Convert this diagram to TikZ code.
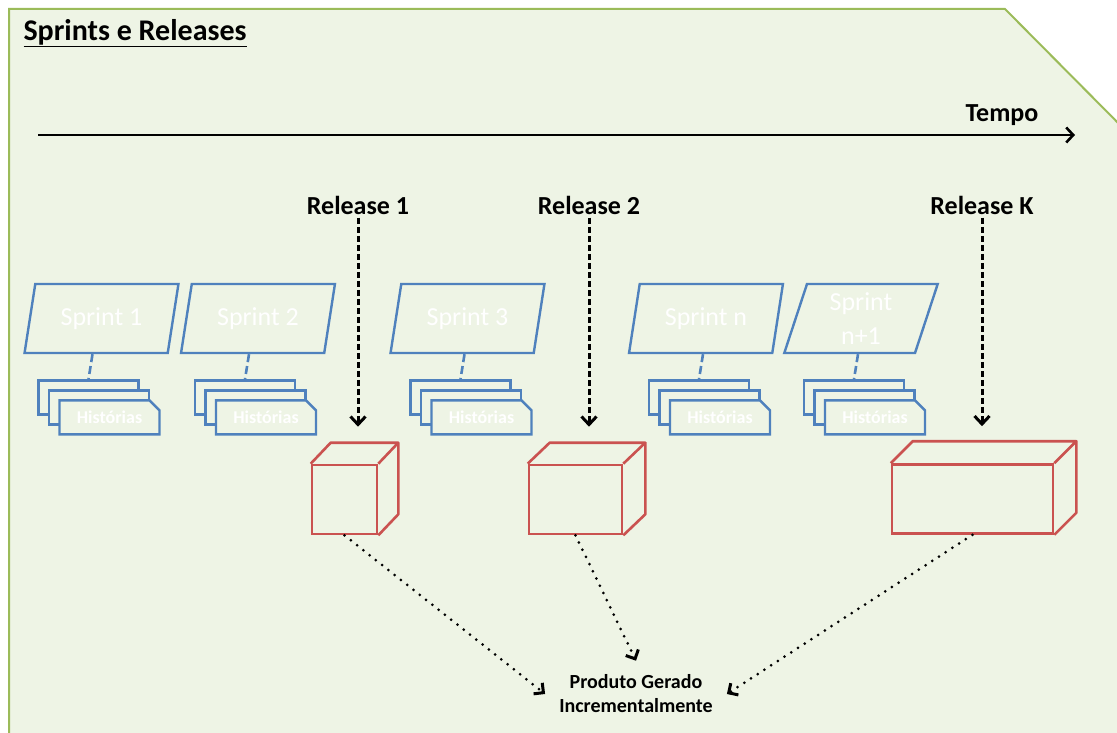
\documentclass[tikz,border=0pt]{standalone}
\usepackage{fontspec}
\setmainfont{Carlito}
\usetikzlibrary{positioning, arrows.meta, shapes.geometric, shapes.misc}

\definecolor{framegreen}{RGB}{155,187,89}
\definecolor{panelbg}{RGB}{238,244,229}
\definecolor{sprintblue}{RGB}{79,129,189}
\definecolor{boxred}{RGB}{202,82,80}

\tikzset{
  sprint/.style={trapezium, trapezium left angle=76, trapezium right angle=104,
    trapezium stretches=true, minimum width=154pt, minimum height=69pt,
    draw=sprintblue, line width=2.4pt, text=white, align=center,
    font=\fontsize{26}{34}\selectfont},
  hist/.style={chamfered rectangle, chamfered rectangle corners=north east,
    chamfered rectangle xsep=5pt, chamfered rectangle ysep=5pt,
    minimum width=100pt, minimum height=34pt, inner sep=0pt,
    draw=sprintblue, line width=2.4pt, fill=panelbg,
    text=white, font=\bfseries\fontsize{18}{20}\selectfont},
  link/.style={draw=sprintblue, line width=2.6pt, dash pattern=on 8pt off 4pt},
  release/.style={font=\bfseries\fontsize{26}{30}\selectfont},
  relarrow/.style={line width=3pt, dash pattern=on 6pt off 3pt, shorten >=37pt,
    -{Straight Barb[length=8pt,width=15pt]}},
  timearrow/.style={line width=2.6pt, -{Straight Barb[length=7pt,width=15pt]}},
  cube/.style={draw=boxred, line width=2.6pt, minimum height=69pt, inner sep=0pt},
  cubeedge/.style={draw=boxred, line width=2.6pt, line join=round},
  dotarrow/.style={line width=3pt, dash pattern=on 0pt off 8pt, line cap=round,
    -{Straight Barb[length=7pt,width=14pt,line width=3pt]}}
}

\begin{document}
\begin{tikzpicture}[x=1pt, y=-1pt]
  \useasboundingbox (0,0) rectangle (1117,733);
  \begin{scope}
    \clip (0,0) rectangle (1117,733);
    \draw[framegreen, line width=2pt, fill=panelbg] (9,9) -- (1005,9) -- (1135,140) -- (1135,760) -- (9,760) -- cycle;
  \end{scope}

  \node[anchor=west, font=\bfseries\fontsize{30}{32}\selectfont] (title) at (20,33) {\underline{Sprints e Releases}};

  % tempo
  \coordinate (t0) at (38,135);
  \coordinate (t1) at (1075,135);
  \draw[timearrow] (t0) -- (t1);
  \node[release] (tempo) at (1002,115) {Tempo};

  % sprints
  \node[sprint] (s1) at (101.5,318.5) {Sprint 1};
  \node[sprint] (s2) at (258,318.5) {Sprint 2};
  \node[sprint] (s3) at (467.5,318.5) {Sprint 3};
  \node[sprint] (sn) at (706,318.5) {Sprint n};
  \node[sprint] (sn1) at (861,318.5) {Sprint\\n+1};

  % historias
  \node[hist] (h1a) [below=25pt of s1, xshift=-13pt] {};
  \node[hist] (h1b) at ([shift={(10.5,10)}]h1a) {};
  \node[hist] (h1c) at ([shift={(21,20)}]h1a) {Histórias};
  \node[hist] (h2a) [below=25pt of s2, xshift=-13pt] {};
  \node[hist] (h2b) at ([shift={(10.5,10)}]h2a) {};
  \node[hist] (h2c) at ([shift={(21,20)}]h2a) {Histórias};
  \node[hist] (h3a) [below=25pt of s3, xshift=-7pt] {};
  \node[hist] (h3b) at ([shift={(10.5,10)}]h3a) {};
  \node[hist] (h3c) at ([shift={(21,20)}]h3a) {Histórias};
  \node[hist] (hna) [below=25pt of sn, xshift=-7pt] {};
  \node[hist] (hnb) at ([shift={(10.5,10)}]hna) {};
  \node[hist] (hnc) at ([shift={(21,20)}]hna) {Histórias};
  \node[hist] (hn1a) [below=25pt of sn1, xshift=-7pt] {};
  \node[hist] (hn1b) at ([shift={(10.5,10)}]hn1a) {};
  \node[hist] (hn1c) at ([shift={(21,20)}]hn1a) {Histórias};

  \draw[link] ([xshift=4pt]h1a.north |- s1.south) -- (h1a.north);
  \draw[link] ([xshift=4pt]h2a.north |- s2.south) -- (h2a.north);
  \draw[link] ([xshift=4pt]h3a.north |- s3.south) -- (h3a.north);
  \draw[link] ([xshift=4pt]hna.north |- sn.south) -- (hna.north);
  \draw[link] ([xshift=4pt]hn1a.north |- sn1.south) -- (hn1a.north);

  % releases
  \node[cube, minimum width=65pt] (b1) at (344.5,499.5) {};
  \node[cube, minimum width=93pt] (b2) at (575.5,499.5) {};
  \node[cube, minimum width=161pt] (bk) at (972.5,499) {};
  \draw[cubeedge] (b1.north west) -- ++(20,-21) -- ([shift={(20,-21)}]b1.north east) -- (b1.north east)
    ([shift={(20,-21)}]b1.north east) -- ([shift={(20,-21)}]b1.south east) -- (b1.south east);
  \draw[cubeedge] (b2.north west) -- ++(22,-21) -- ([shift={(22,-21)}]b2.north east) -- (b2.north east)
    ([shift={(22,-21)}]b2.north east) -- ([shift={(22,-21)}]b2.south east) -- (b2.south east);
  \draw[cubeedge] (bk.north west) -- ++(22,-22) -- ([shift={(22,-22)}]bk.north east) -- (bk.north east)
    ([shift={(22,-22)}]bk.north east) -- ([shift={(22,-22)}]bk.south east) -- (bk.south east);

  \node[release] (r1) at (358,205) {Release 1};
  \node[release] (r2) at (589,205) {Release 2};
  \node[release] (rk) at (982,205) {Release K};
  \draw[relarrow] (r1.south) -- (r1.south |- b1.north);
  \draw[relarrow] (r2.south) -- (r2.south |- b2.north);
  \draw[relarrow] (rk.south) -- (rk.south |- bk.north);

  % produto
  \node[align=center, inner sep=14pt, font=\bfseries\fontsize{20}{24}\selectfont] (prod) at (636,694) {Produto Gerado\\Incrementalmente};
  \draw[dotarrow] (b1.south) -- (prod.west);
  \draw[dotarrow] (b2.south) -- (prod.north);
  \draw[dotarrow] (bk.south) -- (prod.east);
\end{tikzpicture}
\end{document}
